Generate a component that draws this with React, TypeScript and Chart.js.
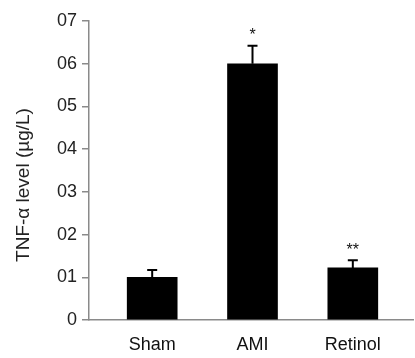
import React, { useEffect, useRef } from "react";
import { Chart, registerables } from "chart.js";

Chart.register(...registerables);

const categories = ["Sham", "AMI", "Retinol"];
const values = [1.0, 6.0, 1.22];
const errorTops = [1.17, 6.42, 1.4];
const significance = ["", "*", "**"];
const yTickLabels = ["0", "01", "02", "03", "04", "05", "06", "07"];
const yTitle = "TNF-\u03b1 level (\u00b5g/L)";

const FONT = "'Liberation Sans', Arial, sans-serif";

const errorBarPlugin = {
  id: "errorBars",
  afterDatasetsDraw(chart: any) {
    const ctx = chart.ctx;
    const meta = chart.getDatasetMeta(0);
    const y = chart.scales.y;
    ctx.save();
    meta.data.forEach((bar: any, i: number) => {
      const x = bar.x;
      const top = y.getPixelForValue(values[i]);
      const errY = y.getPixelForValue(errorTops[i]);
      ctx.strokeStyle = "#000";
      ctx.lineWidth = 2;
      ctx.beginPath();
      ctx.moveTo(x, top);
      ctx.lineTo(x, errY);
      ctx.moveTo(x - 5, errY);
      ctx.lineTo(x + 5, errY);
      ctx.stroke();
      if (significance[i]) {
        ctx.fillStyle = "#111";
        ctx.font = "16px " + FONT;
        ctx.textAlign = "center";
        ctx.textBaseline = "middle";
        ctx.fillText(significance[i], x, errY - 10);
      }
    });
    ctx.restore();
  },
};

const titlePlugin = {
  id: "yTitleDraw",
  afterDraw(chart: any) {
    const ctx = chart.ctx;
    ctx.save();
    ctx.translate(24, 185);
    ctx.rotate(-Math.PI / 2);
    ctx.fillStyle = "#222";
    ctx.font = "19px " + FONT;
    ctx.textAlign = "center";
    ctx.textBaseline = "middle";
    ctx.fillText(yTitle, 0, 0);
    ctx.restore();
  },
};

export default function App() {
  const ref = useRef<HTMLCanvasElement>(null);
  useEffect(() => {
    const chart = new Chart(ref.current!, {
      type: "bar",
      data: {
        datasets: [
          {
            data: values.map((v, i) => ({ x: i + 1, y: v })),
            backgroundColor: "#000",
            borderWidth: 0,
            barThickness: 50,
          },
        ],
      },
      options: {
        animation: false,
        responsive: false,
        maintainAspectRatio: false,
        layout: { padding: { top: 21, right: 2, left: 0, bottom: 0 } },
        plugins: { legend: { display: false }, tooltip: { enabled: false } },
        scales: {
          x: {
            type: "linear",
            offset: false,
            min: 0.37,
            max: 3.6,
            afterBuildTicks: (s: any) => {
              s.ticks = categories.map((_, i) => ({ value: i + 1 }));
            },
            afterFit: (s: any) => {
              s.height = 38;
            },
            grid: { display: false, drawTicks: false },
            border: { display: true, color: "#8a8a8a", width: 1.5 },
            ticks: {
              padding: 14,
              color: "#111",
              maxRotation: 0,
              autoSkip: false,
              font: { family: FONT, size: 18 },
              callback: (v: any) => categories[Number(v) - 1] ?? "",
            },
          },
          y: {
            min: 0,
            max: 7,
            afterBuildTicks: (s: any) => {
              s.ticks = yTickLabels.map((_, i) => ({ value: i }));
            },
            afterFit: (s: any) => {
              s.width = 89;
            },
            grid: { drawOnChartArea: false, drawTicks: true, tickLength: 7, color: "#8a8a8a", lineWidth: 1.5 },
            border: { display: true, color: "#8a8a8a", width: 1.5 },
            ticks: {
              padding: 5,
              color: "#222",
              autoSkip: false,
              font: { family: FONT, size: 18 },
              callback: (v: any) => yTickLabels[Number(v)] ?? "",
            },
          },
        },
      },
      plugins: [errorBarPlugin, titlePlugin],
    } as any);
    return () => chart.destroy();
  }, []);
  return (
    <div style={{ position: "fixed", left: 0, top: 0, width: 415, height: 358, background: "#fff" }}>
      <canvas ref={ref} width={415} height={358} style={{ width: 415, height: 358 }} />
    </div>
  );
}
